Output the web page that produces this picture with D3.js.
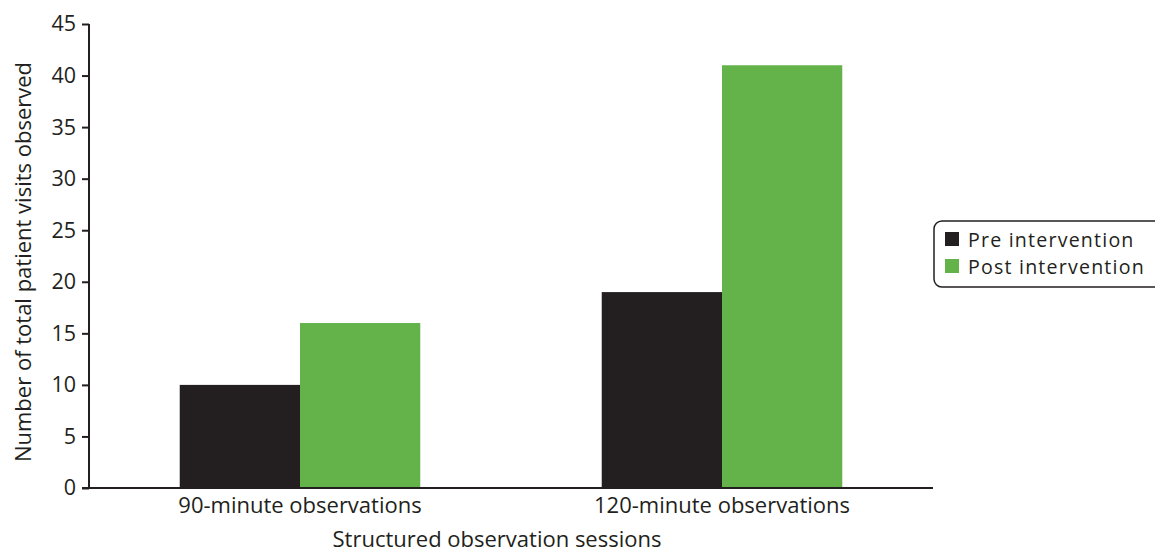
<!DOCTYPE html>
<html><head><meta charset="utf-8">
<script src="https://cdn.jsdelivr.net/npm/d3@7"></script>
<style>body{margin:0;background:#fff}text{font-family:"Open Sans",sans-serif;fill:#231f20}</style>
</head><body><svg id="c" width="1155" height="552"></svg>
<script>
const categories = ["90-minute observations", "120-minute observations"];
const seriesNames = ["Pre intervention", "Post intervention"];
const preValues = [10, 19];
const postValues = [16, 41];
const yTicks = [0, 5, 10, 15, 20, 25, 30, 35, 40, 45];
const colors = ["#231f20", "#64b34a"];

const svg = d3.select("#c");
const x0 = d3.scaleBand().domain(categories).range([89, 933]).paddingInner(0.43).paddingOuter(0.215);
const x1 = d3.scaleBand().domain(seriesNames).range([0, x0.bandwidth()]);
const y = d3.scaleLinear().domain([0, 45]).range([488, 24]);

const data = categories.map((c, i) => ({cat: c, vals: [preValues[i], postValues[i]]}));
const g = svg.selectAll("g.grp").data(data).join("g").attr("transform", d => `translate(${x0(d.cat)},0)`);
g.selectAll("rect").data(d => d.vals.map((v, j) => ({v, s: seriesNames[j], j}))).join("rect")
  .attr("x", d => x1(d.s)).attr("width", x1.bandwidth())
  .attr("y", d => y(d.v)).attr("height", d => y(0) - y(d.v))
  .attr("fill", d => colors[d.j]);

const ya = svg.append("g").attr("transform", "translate(89,0)")
  .call(d3.axisLeft(y).tickValues(yTicks).tickSize(7).tickPadding(6));
ya.selectAll("text").style("font-size", "21.5px").attr("fill", "#231f20").style("font-family", '"Open Sans",sans-serif');
ya.selectAll("line,path").attr("stroke", "#231f20").attr("stroke-width", 2);
ya.select("path").attr("d", "M0,488V24");
ya.selectAll("line").attr("x1", 0).attr("x2", -7);

const xa = svg.append("g").attr("transform", "translate(0,488)")
  .call(d3.axisBottom(x0).tickSize(0).tickPadding(9));
xa.select("path").attr("stroke", "#231f20").attr("stroke-width", 2).attr("d", "M82,0H933");
xa.selectAll("text").style("font-size", "22px").attr("fill", "#231f20").style("font-family", '"Open Sans",sans-serif');

svg.append("text").attr("x", 497).attr("y", 547).attr("text-anchor", "middle").style("font-size", "22px").text("Structured observation sessions");
svg.append("text").attr("transform", "translate(31,262) rotate(-90)").attr("text-anchor", "middle").style("font-size", "22px").text("Number of total patient visits observed");

const lg = svg.append("g");
lg.append("rect").attr("x", 934).attr("y", 221).attr("width", 230).attr("height", 66).attr("rx", 8)
  .attr("fill", "none").attr("stroke", "#231f20").attr("stroke-width", 1.5);
seriesNames.forEach((s, i) => {
  lg.append("rect").attr("x", 945).attr("y", 232 + i * 27).attr("width", 14).attr("height", 14).attr("fill", colors[i]);
  lg.append("text").attr("x", 968).attr("y", 246.5 + i * 27).style("font-size", "19.6px").style("letter-spacing", "1.2px").text(s);
});
</script></body></html>
